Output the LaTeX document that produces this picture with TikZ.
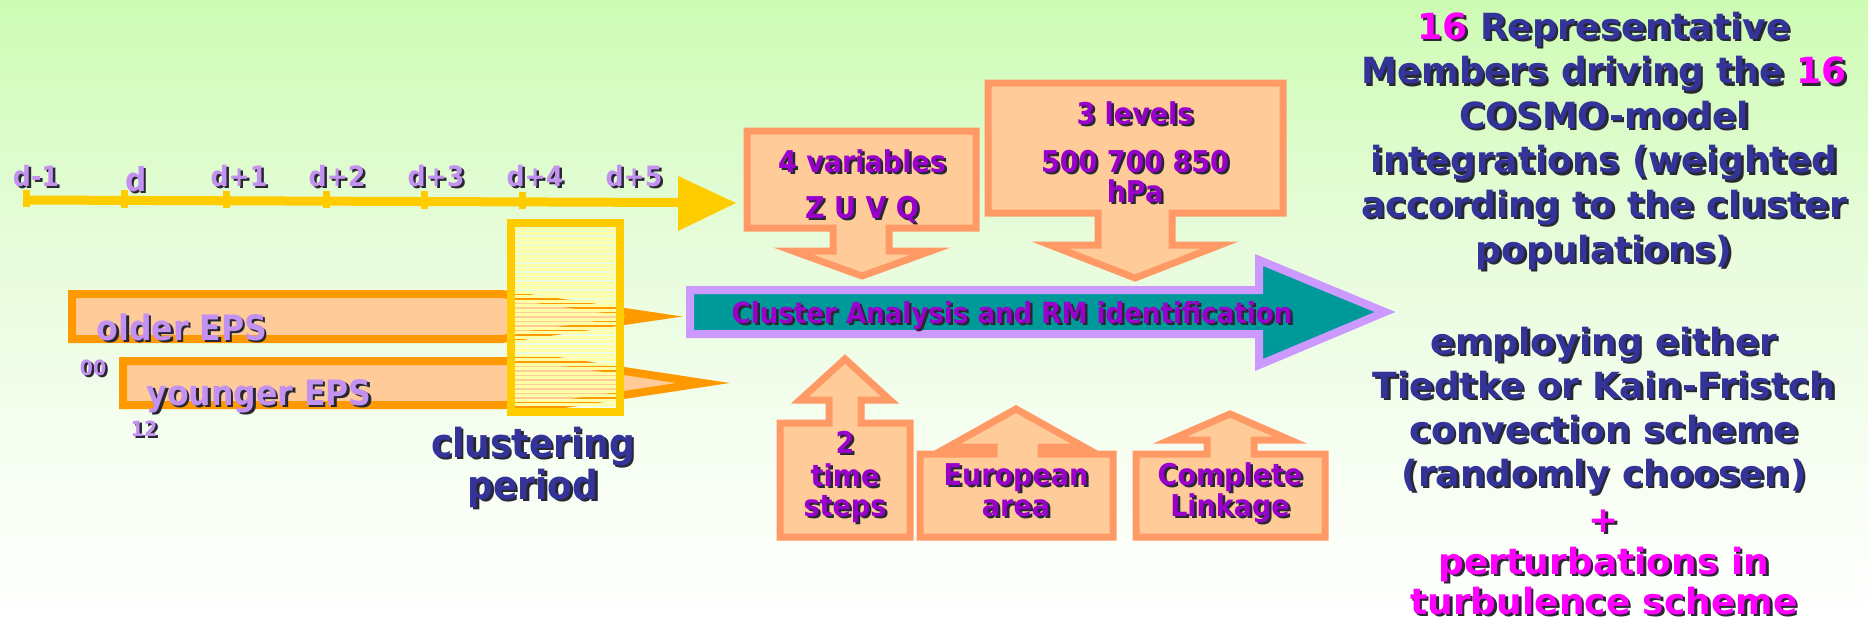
\documentclass[tikz,border=0pt]{standalone}
\usepackage{fontspec}
\newfontfamily\vfont{DejaVu Sans}
\newfontfamily\tfont{DejaVu Sans}[FakeStretch=0.9]
\definecolor{axisY}{HTML}{FFCC00}
\definecolor{epsO}{HTML}{FF9900}
\definecolor{peach}{HTML}{FFCC99}
\definecolor{callO}{HTML}{FF9966}
\definecolor{lav}{HTML}{CC99FF}
\definecolor{teal2}{HTML}{009999}
\definecolor{purp}{HTML}{9900CC}
\definecolor{navy2}{HTML}{333399}
\definecolor{mag}{HTML}{FF00FF}
\definecolor{lavtxt}{RGB}{195,145,240}
\definecolor{shad}{RGB}{40,40,50}
\definecolor{stripe}{HTML}{FFFFA6}
\definecolor{bgtop}{RGB}{205,252,180}
\definecolor{bgmid}{RGB}{232,252,220}
\definecolor{bglow}{RGB}{245,254,240}
\pgfdeclareverticalshading{bgshade}{100bp}{color(0bp)=(white); color(25bp)=(white); color(40bp)=(bglow); color(55bp)=(bgmid); color(75bp)=(bgtop); color(100bp)=(bgtop)}
\newif\ifshadowmode
\newcommand\hlm[1]{\ifshadowmode#1\else\textcolor{mag}{#1}\fi}
\newcommand\stxt[4]{%
  \node[#3,xshift=2.5pt,yshift=-2.5pt,text=shad] (#2-sh) at (#1) {\shadowmodetrue#4};
  \node[#3] (#2) at (#1) {#4};}
\tikzset{
  btxt/.style={inner sep=0pt, anchor=base},
  tlab/.style={btxt, text=lavtxt, font=\tfont\bfseries\fontsize{28}{30}\selectfont},
  dlab/.style={btxt, text=lavtxt, font=\tfont\bfseries\fontsize{33}{36}\selectfont},
  epslab/.style={btxt, text=lavtxt, font=\tfont\bfseries\fontsize{35}{38}\selectfont},
  smalllab/.style={btxt, text=lavtxt, font=\tfont\bfseries\fontsize{21}{24}\selectfont},
  cluslab/.style={btxt, text=navy2, font=\tfont\bfseries\fontsize{40}{44}\selectfont},
  boxtxt/.style={btxt, text=purp, font=\tfont\bfseries\fontsize{30}{33}\selectfont},
  arrtxt/.style={btxt, text=purp, font=\tfont\bfseries\fontsize{29}{32}\selectfont},
  rtxt/.style={btxt, text=navy2, font=\vfont\bfseries\fontsize{36}{40}\selectfont},
  rmag/.style={rtxt, text=mag},
  epsbar/.style={draw=epsO, fill=peach, line width=8pt, line join=miter},
  callout/.style={draw=callO, fill=peach, line width=7pt, line join=miter},
}
\begin{document}
\begin{tikzpicture}[x=1pt,y=-1pt]
\useasboundingbox (0,0) rectangle (1868,624);
\shade[shading=bgshade] (0,0) rectangle (1868,624);

% time axis
\coordinate (ax0) at (23,200);
\coordinate (ax1) at (680,202.5);
\draw[axisY, line width=9pt] (ax0) -- (ax1);
\fill[axisY] (678,176) -- (736,203) -- (678,231) -- cycle;
\foreach \x/\yy in {26/200,124/200.5,226/201,326/201.3,424/201.6,522/202}
  \fill[axisY] (\x-3.5,\yy-10.5) rectangle (\x+3.5,\yy+7);

% EPS bars
\draw[epsbar] (72,294) -- (502,294) -- (655,316.5) -- (502,339) -- (72,339) -- cycle;
\draw[epsbar] (123,361) -- (558,361) -- (703,383) -- (558,405) -- (123,405) -- cycle;

% clustering period box (striped, gaps let what is behind show through)
\foreach \y in {229,233.5,...,407}
  \fill[stripe] (515,\y-1.5) rectangle (616,\y+1.5);
\draw[axisY, line width=8pt] (511,223) rectangle (620,412);

% main arrow
\draw[draw=lav, fill=teal2, line width=8pt, line join=miter]
  (690,290) -- (1259,290) -- (1259,260) -- (1385,312) -- (1259,365) -- (1259,334) -- (690,334) -- cycle;

% callouts
\draw[callout] (747,131) -- (976,131) -- (976,228) -- (889,228) -- (889,251) -- (931,251) -- (862,276) -- (793,251) -- (833,251) -- (833,228) -- (747,228) -- cycle;
\draw[callout] (988,83) -- (1283,83) -- (1283,213) -- (1172,213) -- (1172,245) -- (1220,245) -- (1135,278) -- (1050,245) -- (1098,245) -- (1098,213) -- (988,213) -- cycle;
\draw[callout] (780,537) -- (780,423) -- (829,423) -- (829,400) -- (800,400) -- (845,359) -- (890,400) -- (861,400) -- (861,423) -- (910,423) -- (910,537) -- cycle;
\draw[callout] (920,537) -- (920,454) -- (994,454) -- (994,447) -- (948,447) -- (1016,409) -- (1084,447) -- (1041,447) -- (1041,454) -- (1113,454) -- (1113,537) -- cycle;
\draw[callout] (1136,537) -- (1136,454) -- (1207,454) -- (1207,440) -- (1170,440) -- (1230,414) -- (1290,440) -- (1254,440) -- (1254,454) -- (1325,454) -- (1325,537) -- cycle;

% time labels
\stxt{36,186}{tdm1}{tlab}{d-1}
\stxt{136,191}{td}{dlab}{d}
\stxt{239,186}{td1}{tlab}{d+1}
\stxt{337,186}{td2}{tlab}{d+2}
\stxt{436,186}{td3}{tlab}{d+3}
\stxt{535,186}{td4}{tlab}{d+4}
\stxt{634,186}{td5}{tlab}{d+5}

% EPS labels
\stxt{182,340}{older}{epslab}{older EPS}
\stxt{259,405}{younger}{epslab}{younger EPS}
\stxt{93,375}{h00}{smalllab}{00}
\stxt{144,436}{h12}{smalllab}{12}
\stxt{533,457}{clus1}{cluslab}{clustering}
\stxt{533,499}{clus2}{cluslab}{period}

% callout texts
\stxt{862,172}{va1}{boxtxt}{4 variables}
\stxt{862,218}{va2}{boxtxt}{Z U V Q}
\stxt{1135,124}{lv1}{boxtxt}{3 levels}
\stxt{1135,172}{lv2}{boxtxt}{500 700 850}
\stxt{1135,202}{lv3}{boxtxt}{hPa}
\stxt{845,453}{ts1}{boxtxt}{2}
\stxt{845,486}{ts2}{boxtxt}{time}
\stxt{845,516}{ts3}{boxtxt}{steps}
\stxt{1016,485}{eu1}{boxtxt}{European}
\stxt{1016,516}{eu2}{boxtxt}{area}
\stxt{1230,485}{cl1}{boxtxt}{Complete}
\stxt{1230,516}{cl2}{boxtxt}{Linkage}

% main arrow text
\stxt{1012,323}{ca}{arrtxt}{Cluster Analysis and RM identification}

% right text block 1
\stxt{1604,39}{r1}{rtxt}{\hlm{16} Representative}
\stxt{1604,83.6}{r2}{rtxt}{Members driving the \hlm{16}}
\stxt{1604,128.2}{r3}{rtxt}{COSMO-model}
\stxt{1604,172.8}{r4}{rtxt}{integrations (weighted}
\stxt{1604,217.4}{r5}{rtxt}{according to the cluster}
\stxt{1604,262}{r6}{rtxt}{populations)}

% right text block 2
\stxt{1604,354}{s1}{rtxt}{employing either}
\stxt{1604,398}{s2}{rtxt}{Tiedtke or Kain-Fristch}
\stxt{1604,442}{s3}{rtxt}{convection scheme}
\stxt{1604,486}{s4}{rtxt}{(randomly choosen)}
\stxt{1604,532}{s5}{rmag}{+}
\stxt{1604,574}{s6}{rmag}{perturbations in}
\stxt{1604,614}{s7}{rmag}{turbulence scheme}
\end{tikzpicture}
\end{document}
